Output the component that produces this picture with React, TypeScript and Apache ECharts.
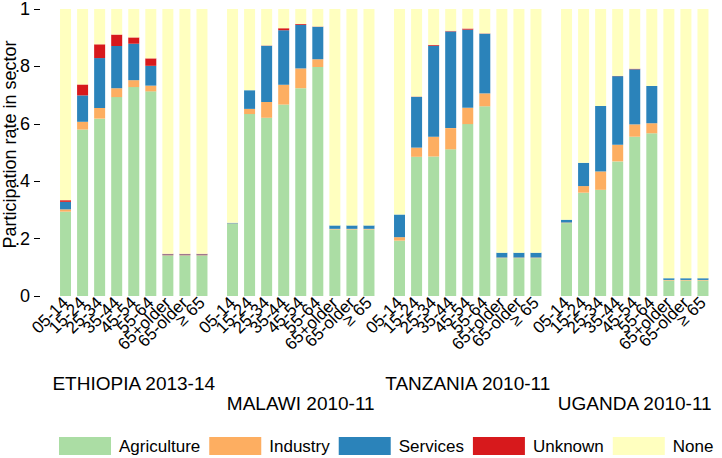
import React, { useEffect, useRef } from "react";
import * as echarts from "echarts";

const categories = ["05-14", "15-24", "25-34", "35-44", "45-54", "55-64", "65+older", "65-older", "≥ 65"];
const countries = ["ETHIOPIA 2013-14", "MALAWI 2010-11", "TANZANIA 2010-11", "UGANDA 2010-11"];
const sectors = ["Agriculture", "Industry", "Services", "Unknown", "None"];
const colors = ["#abdda4", "#fdae61", "#2b83ba", "#d7191c", "#ffffbf"];
const yTicks = ["0", ".2", ".4", ".6", ".8", "1"];

// Ethiopia 2013-14
const ethAgri = [0.294, 0.58, 0.618, 0.693, 0.728, 0.713, 0.14, 0.14, 0.14];
const ethInd = [0.008, 0.027, 0.037, 0.031, 0.024, 0.02, 0.002, 0.002, 0.002];
const ethServ = [0.026, 0.092, 0.174, 0.147, 0.127, 0.069, 0.003, 0.003, 0.003];
const ethUnk = [0.006, 0.038, 0.048, 0.04, 0.022, 0.026, 0.002, 0.002, 0.002];
const ethNone = [0.666, 0.263, 0.123, 0.089, 0.099, 0.172, 0.853, 0.853, 0.853];

// Malawi 2010-11
const mwiAgri = [0.252, 0.634, 0.621, 0.667, 0.724, 0.798, 0.232, 0.232, 0.232];
const mwiInd = [0.001, 0.018, 0.055, 0.069, 0.069, 0.027, 0.002, 0.002, 0.002];
const mwiServ = [0.002, 0.065, 0.196, 0.19, 0.152, 0.113, 0.012, 0.012, 0.012];
const mwiUnk = [0, 0, 0.001, 0.007, 0.003, 0.001, 0, 0, 0];
const mwiNone = [0.745, 0.283, 0.127, 0.067, 0.052, 0.061, 0.754, 0.754, 0.754];

// Tanzania 2010-11
const tzaAgri = [0.193, 0.485, 0.486, 0.511, 0.599, 0.661, 0.132, 0.132, 0.132];
const tzaInd = [0.012, 0.032, 0.069, 0.074, 0.057, 0.045, 0.002, 0.002, 0.002];
const tzaServ = [0.079, 0.177, 0.317, 0.337, 0.272, 0.208, 0.017, 0.017, 0.017];
const tzaUnk = [0, 0.001, 0.003, 0.002, 0.004, 0.001, 0, 0, 0];
const tzaNone = [0.716, 0.305, 0.125, 0.076, 0.068, 0.085, 0.849, 0.849, 0.849];

// Uganda 2010-11
const ugaAgri = [0.254, 0.36, 0.37, 0.469, 0.555, 0.567, 0.054, 0.054, 0.054];
const ugaInd = [0.002, 0.023, 0.064, 0.058, 0.043, 0.035, 0.002, 0.002, 0.002];
const ugaServ = [0.01, 0.081, 0.228, 0.239, 0.192, 0.13, 0.006, 0.006, 0.006];
const ugaUnk = [0, 0, 0, 0.001, 0.002, 0, 0, 0, 0];
const ugaNone = [0.734, 0.536, 0.338, 0.233, 0.208, 0.268, 0.938, 0.938, 0.938];

const countryData = [
  [ethAgri, ethInd, ethServ, ethUnk, ethNone],
  [mwiAgri, mwiInd, mwiServ, mwiUnk, mwiNone],
  [tzaAgri, tzaInd, tzaServ, tzaUnk, tzaNone],
  [ugaAgri, ugaInd, ugaServ, ugaUnk, ugaNone],
];

const FONT = "'Liberation Sans', Arial, Helvetica, sans-serif";
const gridLefts = [57, 224, 391, 558];
const nameGaps = [78, 98, 78, 98];

export default function App() {
  const ref = useRef<HTMLDivElement>(null);
  useEffect(() => {
    document.body.style.margin = "0";
    if (!ref.current) return;
    const chart = echarts.init(ref.current, null, { renderer: "svg" });
    const grid = gridLefts.map((l) => ({
      left: l,
      width: 153.5,
      top: 9,
      height: 287,
      outerBoundsMode: "none",
    }));
    const xAxis = countries.map((c, i) => ({
      type: "category",
      gridIndex: i,
      data: categories,
      axisLine: { show: false },
      axisTick: { show: false },
      axisLabel: {
        rotate: 45,
        interval: 0,
        fontSize: 17,
        margin: 4,
        color: "#000",
        fontFamily: FONT,
      },
      name: c,
      nameLocation: "middle",
      nameGap: nameGaps[i],
      nameMoveOverlap: false,
      nameTextStyle: { fontSize: 19, color: "#000", fontFamily: FONT, verticalAlign: "top" },
    }));
    const yAxis = countries.map((c, i) => ({
      type: "value",
      gridIndex: i,
      min: 0,
      max: 1,
      interval: 0.2,
      show: i === 0,
      offset: 17,
      splitLine: { show: false },
      axisLine: { show: false },
      axisTick: { show: true, length: 6, lineStyle: { color: "#000", width: 1 } },
      axisLabel: {
        fontSize: 18,
        lineHeight: 14,
        margin: 10,
        color: "#000",
        fontFamily: FONT,
        formatter: (v: number) => yTicks[Math.round(v * 5)],
      },
      name: i === 0 ? "Participation rate in sector" : "",
      nameLocation: "middle",
      nameGap: 21,
      nameMoveOverlap: false,
      nameTextStyle: { fontSize: 18, color: "#000", fontFamily: FONT, padding: [0, 0, 0, 16] },
    }));
    const series: any[] = [];
    countryData.forEach((cd, i) => {
      cd.forEach((vals, j) => {
        series.push({
          type: "bar",
          name: sectors[j],
          xAxisIndex: i,
          yAxisIndex: i,
          stack: "s" + i,
          data: vals,
          barWidth: 11,
          itemStyle: { color: colors[j] },
          emphasis: { disabled: true },
        });
      });
    });
    chart.setOption({
      animation: false,
      grid,
      xAxis,
      yAxis,
      series,
      legend: {
        data: sectors,
        left: 54,
        top: 432,
        icon: "rect",
        itemWidth: 52,
        itemHeight: 18,
        itemGap: 9,
        textStyle: { fontSize: 17, color: "#000", fontFamily: FONT, padding: [0, 0, 0, 3] },
        selectedMode: false,
      },
    });
    return () => chart.dispose();
  }, []);
  return <div ref={ref} style={{ width: 722, height: 458 }} />;
}
